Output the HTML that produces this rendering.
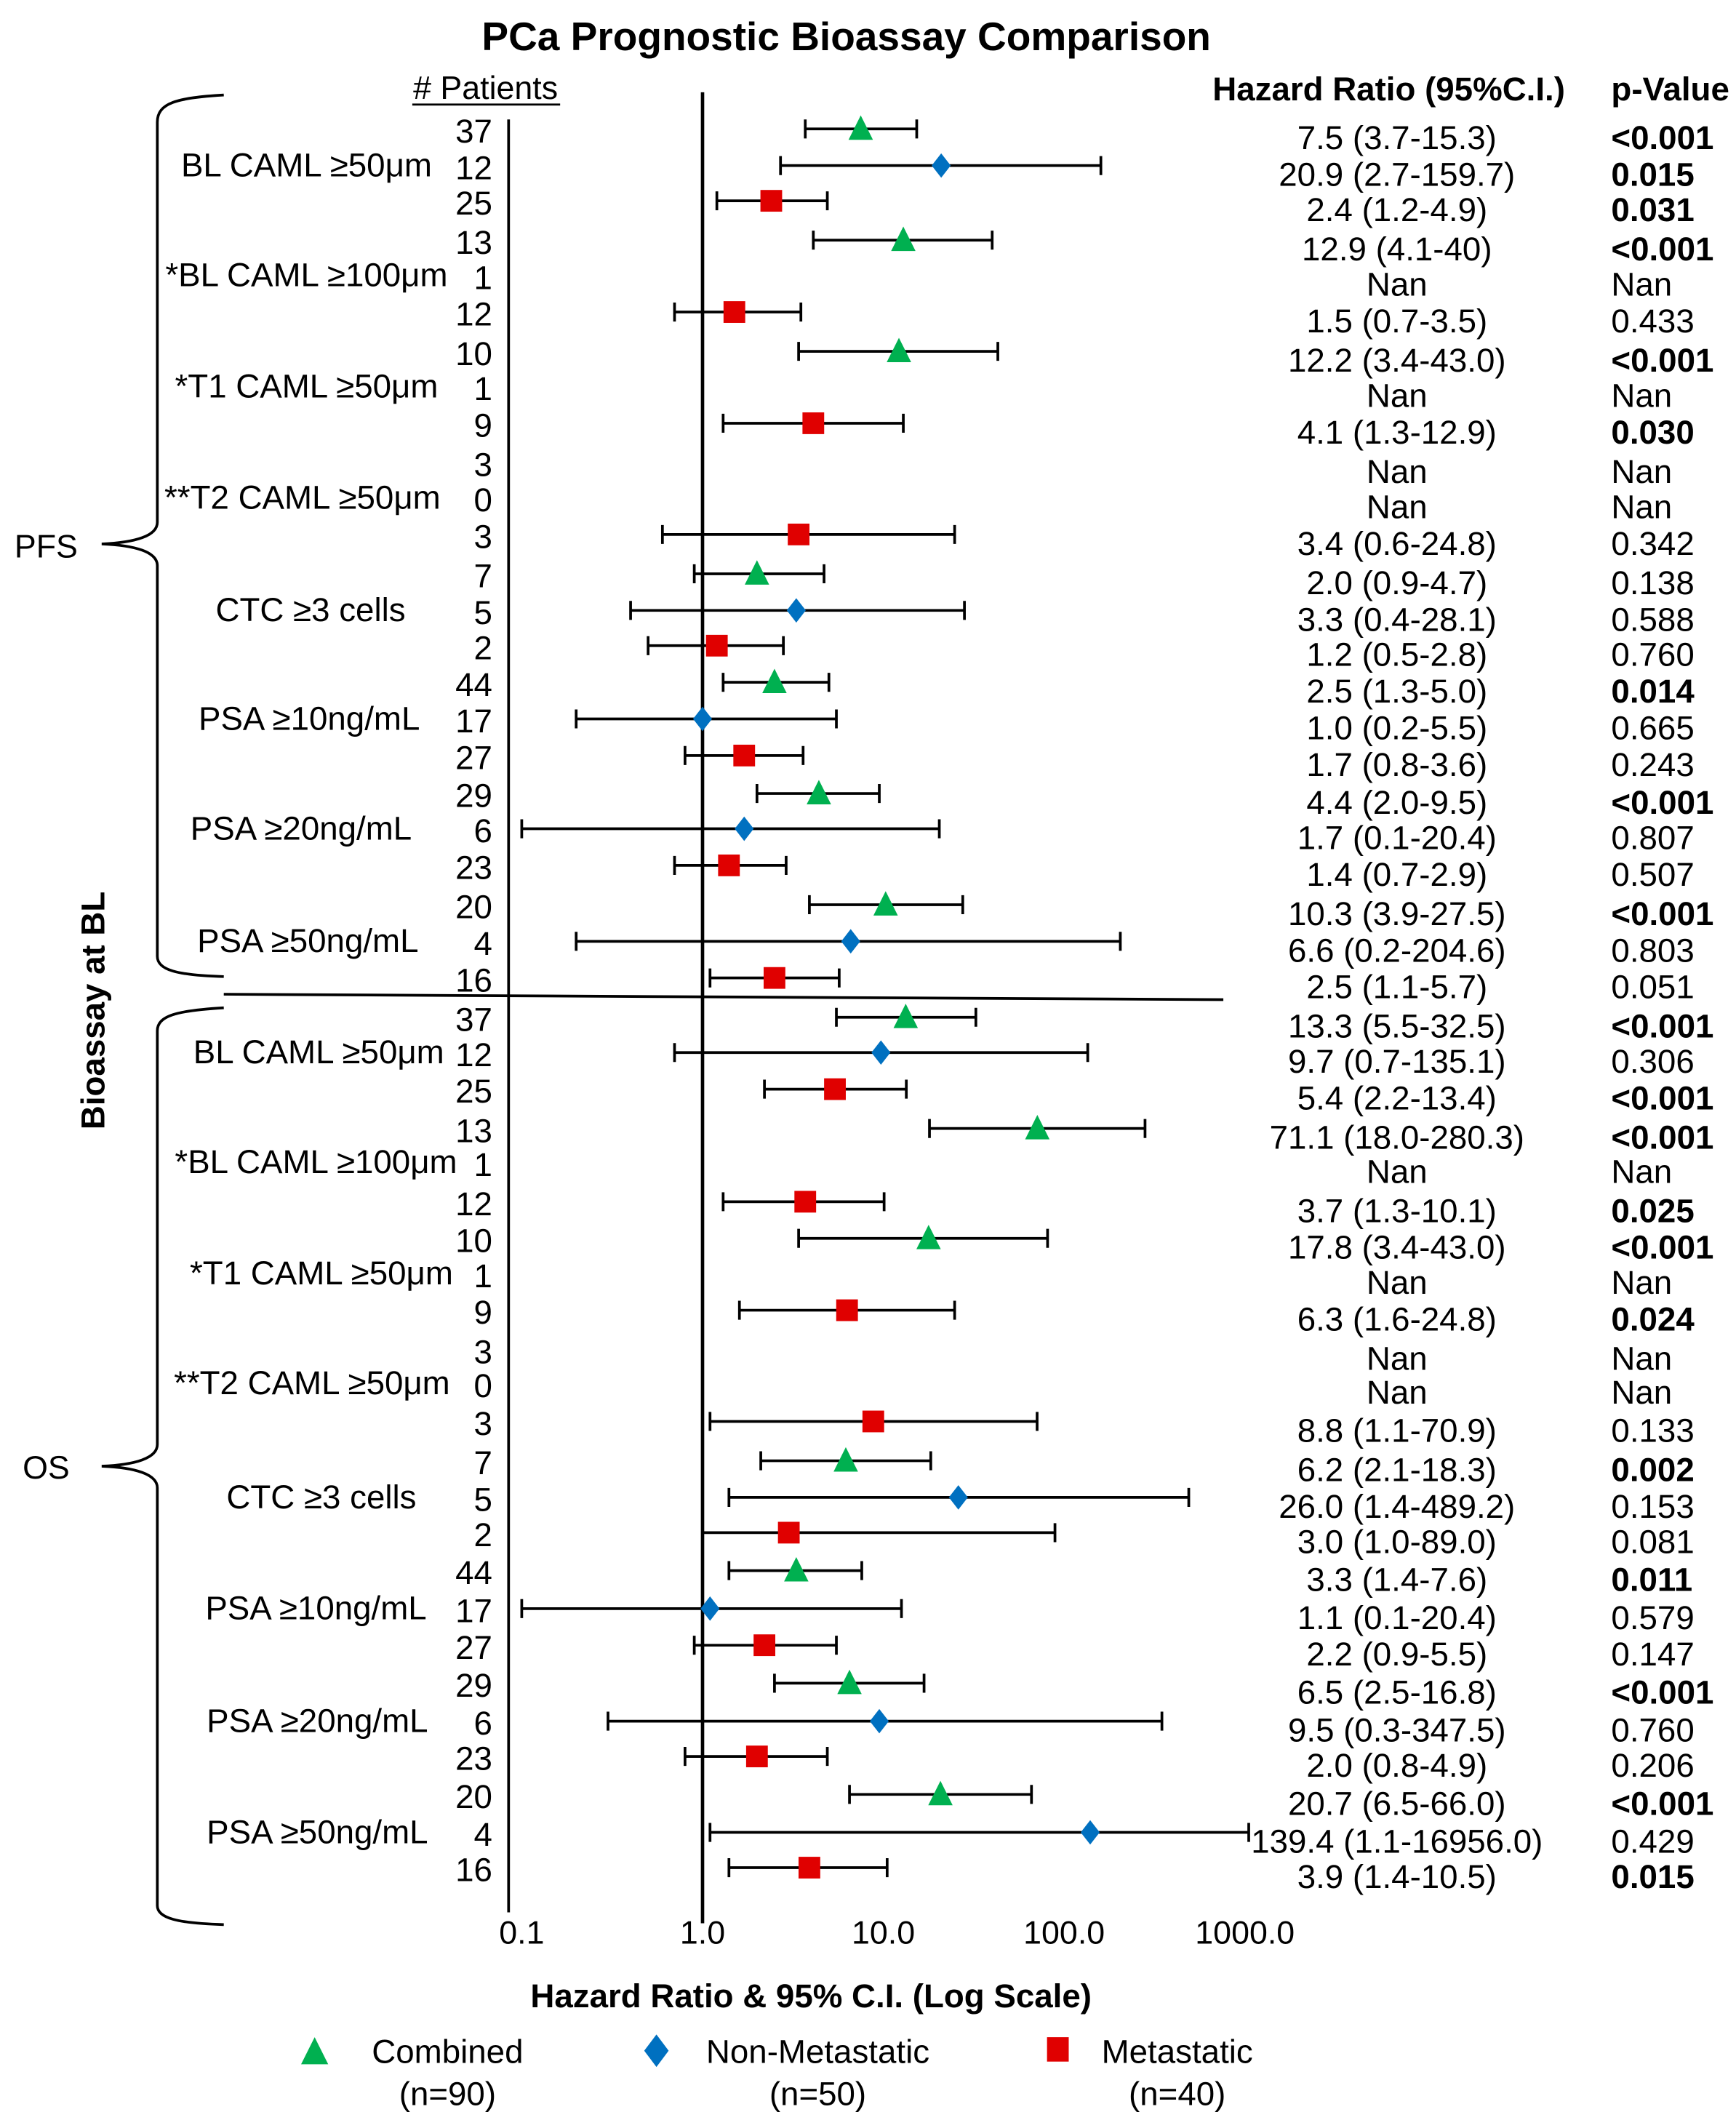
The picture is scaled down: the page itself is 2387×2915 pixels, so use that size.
<!DOCTYPE html>
<html><head><meta charset="utf-8"><style>
html,body{margin:0;padding:0;background:#fff}
svg{display:block}
text{font-family:"Liberation Sans",Arial,sans-serif;fill:#000}
</style></head><body>
<svg id="chart" width="2387" height="2915" viewBox="0 0 1280 1563" xmlns="http://www.w3.org/2000/svg">
<text x="624" y="37" font-size="29.5" font-weight="bold" text-anchor="middle">PCa Prognostic Bioassay Comparison</text>
<text x="358" y="73" font-size="24" text-anchor="middle">#&#160;Patients</text>
<line x1="304" y1="77" x2="413" y2="77" stroke="#000" stroke-width="1.5"/>
<text x="1024" y="74" font-size="24.5" font-weight="bold" text-anchor="middle">Hazard Ratio (95%C.I.)</text>
<text x="1188" y="74" font-size="24.5" font-weight="bold">p-Value</text>
<text transform="translate(77,745) rotate(-90)" font-size="24.5" font-weight="bold" text-anchor="middle">Bioassay at BL</text>
<text x="34" y="411" font-size="24" text-anchor="middle">PFS</text>
<text x="34" y="1090" font-size="24" text-anchor="middle">OS</text>
<path d="M165,70 C130,72 116,76 116,90 L116,385 C116,395 100,400 75,401 C100,402 116,407 116,417 L116,705 C116,715 130,719 165,720" fill="none" stroke="#000" stroke-width="2"/>
<path d="M165,743 C130,745 116,749 116,760 L116,1065 C116,1075 100,1080 75,1081 C100,1082 116,1087 116,1097 L116,1405 C116,1414 130,1418 165,1419" fill="none" stroke="#000" stroke-width="2"/>
<line x1="165" y1="733" x2="902" y2="737" stroke="#000" stroke-width="2"/>
<line x1="375" y1="88" x2="375" y2="1410" stroke="#000" stroke-width="2"/>
<g id="plot"></g>
<text x="598" y="1480" font-size="24.5" font-weight="bold" text-anchor="middle">Hazard Ratio &amp; 95% C.I. (Log Scale)</text>
<polygon points="232,1502 222,1522 242,1522" fill="#00b050"/>
<text x="330" y="1521" font-size="24.5" text-anchor="middle">Combined</text>
<text x="330" y="1552" font-size="24.5" text-anchor="middle">(n=90)</text>
<polygon points="484,1500 493,1512 484,1524 475,1512" fill="#0070c0"/>
<text x="603" y="1521" font-size="24.5" text-anchor="middle">Non-Metastatic</text>
<text x="603" y="1552" font-size="24.5" text-anchor="middle">(n=50)</text>
<rect x="772" y="1502" width="16" height="18" fill="#e00000"/>
<text x="868" y="1521" font-size="24.5" text-anchor="middle">Metastatic</text>
<text x="868" y="1552" font-size="24.5" text-anchor="middle">(n=40)</text>
</svg>
<script>
const ticks = [0.1, 1, 10, 100, 1000];
const tickLabels = ["0.1", "1.0", "10.0", "100.0", "1000.0"];
const groupLabels = ["BL CAML ≥50μm","*BL CAML ≥100μm","*T1 CAML ≥50μm","**T2 CAML ≥50μm","CTC ≥3 cells","PSA ≥10ng/mL","PSA ≥20ng/mL","PSA ≥50ng/mL",
 "BL CAML ≥50μm","*BL CAML ≥100μm","*T1 CAML ≥50μm","**T2 CAML ≥50μm","CTC ≥3 cells","PSA ≥10ng/mL","PSA ≥20ng/mL","PSA ≥50ng/mL"];
const groupLabelX = [226,226,226,223,229,228,222,227,235,233,237,230,237,233,234,234];
const patients = [37,12,25,13,1,12,10,1,9,3,0,3,7,5,2,44,17,27,29,6,23,20,4,16,
 37,12,25,13,1,12,10,1,9,3,0,3,7,5,2,44,17,27,29,6,23,20,4,16];
const hr = [7.5,20.9,2.4,12.9,null,1.5,12.2,null,4.1,null,null,3.4,2.0,3.3,1.2,2.5,1.0,1.7,4.4,1.7,1.4,10.3,6.6,2.5,
 13.3,9.7,5.4,71.1,null,3.7,17.8,null,6.3,null,null,8.8,6.2,26.0,3.0,3.3,1.1,2.2,6.5,9.5,2.0,20.7,139.4,3.9];
const ciLow = [3.7,2.7,1.2,4.1,null,0.7,3.4,null,1.3,null,null,0.6,0.9,0.4,0.5,1.3,0.2,0.8,2.0,0.1,0.7,3.9,0.2,1.1,
 5.5,0.7,2.2,18.0,null,1.3,3.4,null,1.6,null,null,1.1,2.1,1.4,1.0,1.4,0.1,0.9,2.5,0.3,0.8,6.5,1.1,1.4];
const ciHigh = [15.3,159.7,4.9,40,null,3.5,43.0,null,12.9,null,null,24.8,4.7,28.1,2.8,5.0,5.5,3.6,9.5,20.4,2.9,27.5,204.6,5.7,
 32.5,135.1,13.4,280.3,null,10.1,81,null,24.8,null,null,70.9,18.3,489.2,89.0,7.6,12.6,5.5,16.8,347.5,4.9,66.0,1050,10.5];
const hrLabels = ["7.5 (3.7-15.3)","20.9 (2.7-159.7)","2.4 (1.2-4.9)","12.9 (4.1-40)","Nan","1.5 (0.7-3.5)","12.2 (3.4-43.0)","Nan","4.1 (1.3-12.9)","Nan","Nan","3.4 (0.6-24.8)","2.0 (0.9-4.7)","3.3 (0.4-28.1)","1.2 (0.5-2.8)","2.5 (1.3-5.0)","1.0 (0.2-5.5)","1.7 (0.8-3.6)","4.4 (2.0-9.5)","1.7 (0.1-20.4)","1.4 (0.7-2.9)","10.3 (3.9-27.5)","6.6 (0.2-204.6)","2.5 (1.1-5.7)",
 "13.3 (5.5-32.5)","9.7 (0.7-135.1)","5.4 (2.2-13.4)","71.1 (18.0-280.3)","Nan","3.7 (1.3-10.1)","17.8 (3.4-43.0)","Nan","6.3 (1.6-24.8)","Nan","Nan","8.8 (1.1-70.9)","6.2 (2.1-18.3)","26.0 (1.4-489.2)","3.0 (1.0-89.0)","3.3 (1.4-7.6)","1.1 (0.1-20.4)","2.2 (0.9-5.5)","6.5 (2.5-16.8)","9.5 (0.3-347.5)","2.0 (0.8-4.9)","20.7 (6.5-66.0)","139.4 (1.1-16956.0)","3.9 (1.4-10.5)"];
const pValues = ["<0.001","0.015","0.031","<0.001","Nan","0.433","<0.001","Nan","0.030","Nan","Nan","0.342","0.138","0.588","0.760","0.014","0.665","0.243","<0.001","0.807","0.507","<0.001","0.803","0.051",
 "<0.001","0.306","<0.001","<0.001","Nan","0.025","<0.001","Nan","0.024","Nan","Nan","0.133","0.002","0.153","0.081","0.011","0.579","0.147","<0.001","0.760","0.206","<0.001","0.429","0.015"];
const pBold = [1,1,1,1,0,0,1,0,1,0,0,0,0,0,0,1,0,0,1,0,0,1,0,0, 1,0,1,1,0,1,1,0,1,0,0,0,1,0,0,1,0,0,1,0,0,1,0,1];
const rowY = [95,122,148,177,203,230,259,285,312,341,367,394,423,450,476,503,530,557,585,611,638,667,694,721,
 750,776,803,832,857,886,913,939,966,995,1020,1048,1077,1104,1130,1158,1186,1213,1241,1269,1295,1323,1351,1377];

const NS='http://www.w3.org/2000/svg';
const g=document.getElementById('plot');
const X0=518, DEC=133.3;
function xs(v){return X0+Math.log10(v)*DEC;}
function mk(tag,attrs){const e=document.createElementNS(NS,tag);for(const k in attrs)e.setAttribute(k,attrs[k]);g.appendChild(e);return e;}
let ref=mk('line',{x1:xs(1),y1:68,x2:xs(1),y2:1418,stroke:'#000','stroke-width':2.5});


ticks.forEach((t,i)=>{
  const e=mk('text',{x:xs(t),y:1433,'font-size':24,'text-anchor':'middle'});
  e.textContent=tickLabels[i];
  
  
});
groupLabels.forEach((l,i)=>{
  const e=mk('text',{x:groupLabelX[i],y:rowY[i*3+1]+8,'font-size':24.5,'text-anchor':'middle'});
  e.textContent=l;
  
  
});
const colors=['#00b050','#0070c0','#e00000'];
rowY.forEach((y,i)=>{
  const n=mk('text',{x:363,y:y+10,'font-size':24.5,'text-anchor':'end'});
  n.textContent=patients[i];
  
  
  const h=mk('text',{x:1030,y:y+15,'font-size':24.5,'text-anchor':'middle'});
  h.textContent=hrLabels[i];
  
  
  const p=mk('text',{x:1188,y:y+15,'font-size':24.5,'font-weight':pBold[i]?'bold':'normal'});
  p.textContent=pValues[i];
  
  
  if(hr[i]===null) return;
  const x1=xs(ciLow[i]),x2=xs(ciHigh[i]),xc=xs(hr[i]);
  const ci=mk('path',{d:`M${x1},${y}H${x2}M${x1},${y-7}V${y+7}M${x2},${y-7}V${y+7}`,stroke:'#000','stroke-width':2,fill:'none'});
  
  
  const s=i%3; let m;
  if(s===0) m=mk('polygon',{points:`${xc},${y-10} ${xc-9},${y+8} ${xc+9},${y+8}`,fill:colors[0]});
  else if(s===1) m=mk('polygon',{points:`${xc},${y-9} ${xc+7},${y} ${xc},${y+9} ${xc-7},${y}`,fill:colors[1]});
  else m=mk('rect',{x:xc-8,y:y-8,width:16,height:16,fill:colors[2]});
  
  
});
</script>
</body></html>
